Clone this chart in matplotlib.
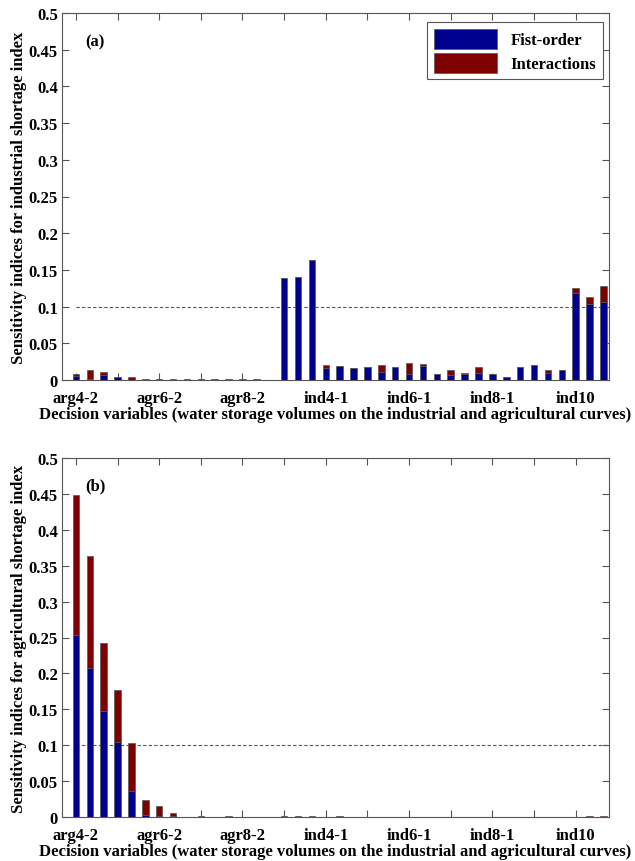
import matplotlib
matplotlib.use("Agg")
import matplotlib.pyplot as plt
import numpy as np

plt.rcParams['font.family'] = ['Liberation Serif', 'DejaVu Serif']
plt.rcParams['font.weight'] = 'bold'

# ---- data ----
n_vars = 39
tick_positions = [1, 4, 7, 10, 13, 16, 19, 22, 25, 28, 31, 34, 37]
tick_labels = ['arg4-2', '', 'agr6-2', '', 'agr8-2', '', 'ind4-1', '',
               'ind6-1', '', 'ind8-1', '', 'ind10']

first_a = [0.0055, 0.0020, 0.0068, 0.0035, 0.0005, 0.0005, 0.0006, 0.0005, 0.0005, 0.0006,
           0.0005, 0.0005, 0.0004, 0.0005, 0.0003, 0.139, 0.141, 0.164, 0.0165, 0.0188,
           0.0164, 0.0180, 0.0110, 0.0180, 0.0075, 0.0190, 0.0086, 0.0070, 0.0082, 0.0090,
           0.0082, 0.0040, 0.0177, 0.0205, 0.0090, 0.0136, 0.1187, 0.1040, 0.1068]
inter_a = [0.0027, 0.0117, 0.0047, 0.0005, 0.0032, 0.0004, 0.0005, 0.0004, 0.0004, 0.0005,
           0.0004, 0.0004, 0.0003, 0.0004, 0.0002, 0.0, 0.0, 0.0, 0.0045, 0.0,
           0.0, 0.0, 0.0090, 0.0, 0.0152, 0.0028, 0.0, 0.0066, 0.0018, 0.0083,
           0.0, 0.0, 0.0, 0.0, 0.0040, 0.0, 0.0068, 0.0097, 0.0219]

first_b = [0.2535, 0.208, 0.147, 0.105, 0.0365, 0.003, 0.002, 0.0015, 0.0003, 0.0004,
           0.0003, 0.0004, 0.0003, 0.0003, 0.0003, 0.0004, 0.0004, 0.0004, 0.0003, 0.0004,
           0.0003, 0.0003, 0.0003, 0.0003, 0.0003, 0.0003, 0.0003, 0.0003, 0.0003, 0.0003,
           0.0003, 0.0003, 0.0003, 0.0003, 0.0003, 0.0003, 0.0003, 0.0004, 0.0004]
inter_b = [0.1945, 0.156, 0.0954, 0.072, 0.0669, 0.021, 0.0128, 0.0035, 0.0003, 0.0004,
           0.0002, 0.0004, 0.0002, 0.0002, 0.0002, 0.0004, 0.0016, 0.0016, 0.0002, 0.0004,
           0.0002, 0.0002, 0.0002, 0.0002, 0.0002, 0.0002, 0.0002, 0.0002, 0.0002, 0.0002,
           0.0002, 0.0002, 0.0002, 0.0002, 0.0002, 0.0002, 0.0002, 0.0004, 0.0004]

series_names = ['Fist-order', 'Interactions']
ylabels = ['Sensitivity indices for industrial shortage index',
           'Sensitivity indices for agricultural shortage index']
xlabel = 'Decision variables (water storage volumes on the industrial and agricultural curves)'
panel_tags = ['(a)', '(b)']
threshold = 0.1

# ---- styling ----
blue = '#00008F'
red = '#7F0000'
edge = '#555555'
spine_c = '#555555'
fs = 12

W, H = 635, 862
fig = plt.figure(figsize=(W / 100, H / 100), dpi=100)

def ax_rect(left, top, right, bottom):
    return [left / W, 1 - bottom / H, (right - left) / W, (bottom - top) / H]

ax_a = fig.add_axes(ax_rect(62, 14, 609, 381))
ax_b = fig.add_axes(ax_rect(62, 459, 609, 818))

x = np.arange(1, n_vars + 1)
for i, (ax, f, it) in enumerate([(ax_a, first_a, inter_a), (ax_b, first_b, inter_b)]):
    ax.bar(x, f, width=0.47, color=blue, edgecolor=edge, linewidth=0.5, label=series_names[0], zorder=2)
    ax.bar(x, it, width=0.47, bottom=f, color=red, edgecolor=edge, linewidth=0.5, label=series_names[1], zorder=2)
    ax.plot([1, 40], [threshold, threshold], linestyle=(0, (3, 2)), color='#555555', linewidth=0.8, zorder=1)
    ax.set_xlim(0, 39.4)
    ax.set_ylim(0, 0.5)
    ax.set_yticks(np.arange(0, 0.51, 0.05))
    ax.set_yticklabels(['%g' % round(v, 2) for v in np.arange(0, 0.51, 0.05)])
    ax.set_xticks(tick_positions)
    ax.set_xticklabels(tick_labels)
    ax.tick_params(direction='in', length=5, width=0.8, color=spine_c, top=True, right=True,
                   labelsize=fs)
    ax.tick_params(axis='y', pad=3)
    ax.tick_params(axis='x', pad=7)
    for lab in ax.get_xticklabels() + ax.get_yticklabels():
        lab.set_fontweight('bold')
    for sp in ax.spines.values():
        sp.set_color(spine_c)
        sp.set_linewidth(0.8)
    ax.set_ylabel(ylabels[i], fontsize=fs, fontweight='bold', labelpad=1)
    ax.set_xlabel(xlabel, fontsize=fs, fontweight='bold', labelpad=0)
    ax.text(2.4, 0.462, panel_tags[i], fontsize=fs, fontweight='bold', ha='center', va='center')

leg = ax_a.legend(loc='upper right', bbox_to_anchor=(0.989, 0.975), borderaxespad=0,
                  fancybox=False, edgecolor='#555555', framealpha=1,
                  handlelength=3.8, handleheight=1.45, labelspacing=0.25,
                  prop={'size': fs, 'weight': 'bold'})
leg.get_frame().set_linewidth(0.8)

fig.savefig('out.png', dpi=100)
